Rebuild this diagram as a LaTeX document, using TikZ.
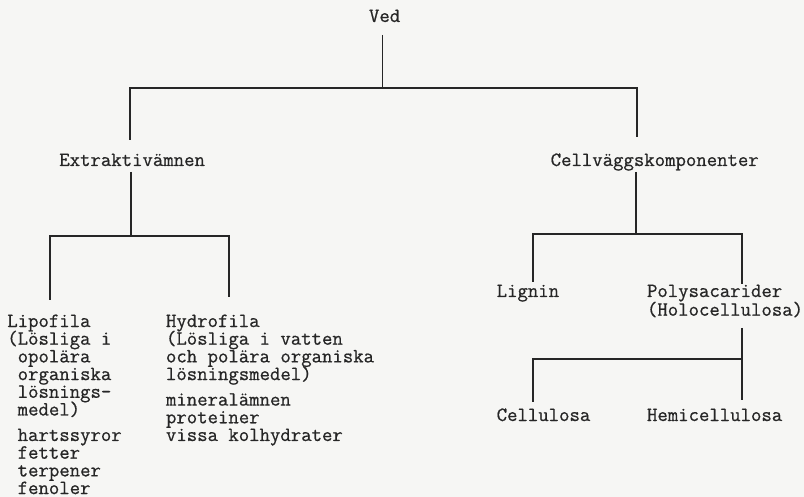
\documentclass[tikz,border=0pt]{standalone}
\usepackage{fontspec}
\newfontfamily\twfont{Latin Modern Mono}[FakeBold=0.7]
\definecolor{paper}{RGB}{246,246,244}
\definecolor{ink}{RGB}{38,38,38}
\newcommand\lines[1]{\vtop{\baselineskip=17.7pt\lineskiplimit=-100pt\lineskip=0pt\halign{##\hfil\cr#1\crcr}}}
\newcommand\ind{\hphantom{(}}
\begin{document}
\begin{tikzpicture}[x=1pt,y=1pt,
  txt/.style={anchor=base west, inner sep=0pt, outer sep=0pt,
    font=\twfont\fontsize{20.2}{17.7}\selectfont, text=ink},
  conn/.style={draw=ink, line width=1.3pt}]
\fill[paper] (0,0) rectangle (804,-497);
\useasboundingbox (0,0) rectangle (804,-497);

% text nodes
\node[txt] (ved)    at (369,-22)    {Ved};
\node[txt] (extr)   at (59.3,-166)  {Extraktivämnen};
\node[txt] (cell)   at (550.7,-166) {Cellväggskomponenter};
\node[txt] (lipo)   at (7.3,-327)   {\lines{Lipofila\cr
  (Lösliga i\cr
  \ind opolära\cr
  \ind organiska\cr
  \ind lösnings-\cr
  \ind medel)\cr
  \noalign{\vskip7.8pt}
  \ind hartssyror\cr
  \ind fetter\cr
  \ind terpener\cr
  \ind fenoler}};
\node[txt] (hydro)  at (166,-327)   {\lines{Hydrofila\cr
  (Lösliga i vatten\cr
  och polära organiska\cr
  lösningsmedel)\cr
  \noalign{\vskip7.8pt}
  mineralämnen\cr
  proteiner\cr
  vissa kolhydrater}};
\node[txt] (lignin) at (496.7,-297) {Lignin};
\node[txt] (poly)   at (647,-297)   {\lines{Polysacarider\cr
  \noalign{\vskip1pt}
  (Holocellulosa)}};
\node[txt] (cellu)  at (496.7,-421) {Cellulosa};
\node[txt] (hemi)   at (647,-421)   {Hemicellulosa};

% junction coordinates
\coordinate (jA) at (382.7,-88);
\coordinate (tl) at (130,-88);
\coordinate (tr) at (637,-88);
\coordinate (jE) at (131,-236);
\coordinate (bl) at (50,-236);
\coordinate (br) at (229,-236);
\coordinate (jC) at (636,-234);
\coordinate (cl) at (533,-234);
\coordinate (cr) at (742,-234);
\coordinate (jP) at (742,-359);
\coordinate (hl) at (533,-359);

% connectors
\draw[conn, shorten <=13pt] (ved.base -| jA) -- (jA);
\draw[conn, shorten <=26pt, shorten >=29pt] (extr.base -| tl) -- (tl) -- (tr) -- (cell.base -| tr);
\draw[conn, shorten <=6pt] (extr.base -| jE) -- (jE);
\draw[conn, shorten <=27pt, shorten >=30pt] (lipo.base -| bl) -- (bl) -- (br) -- (hydro.base -| br);
\draw[conn, shorten <=6pt] (cell.base -| jC) -- (jC);
\draw[conn, shorten <=15pt, shorten >=13pt] (lignin.base -| cl) -- (cl) -- (cr) -- (poly.base -| cr);
\draw[conn, shorten <=31pt, shorten >=21pt] (poly.base -| cr) -- (hemi.base -| cr);
\draw[conn, shorten >=19pt] (jP) -- (hl) -- (cellu.base -| hl);
\end{tikzpicture}
\end{document}
